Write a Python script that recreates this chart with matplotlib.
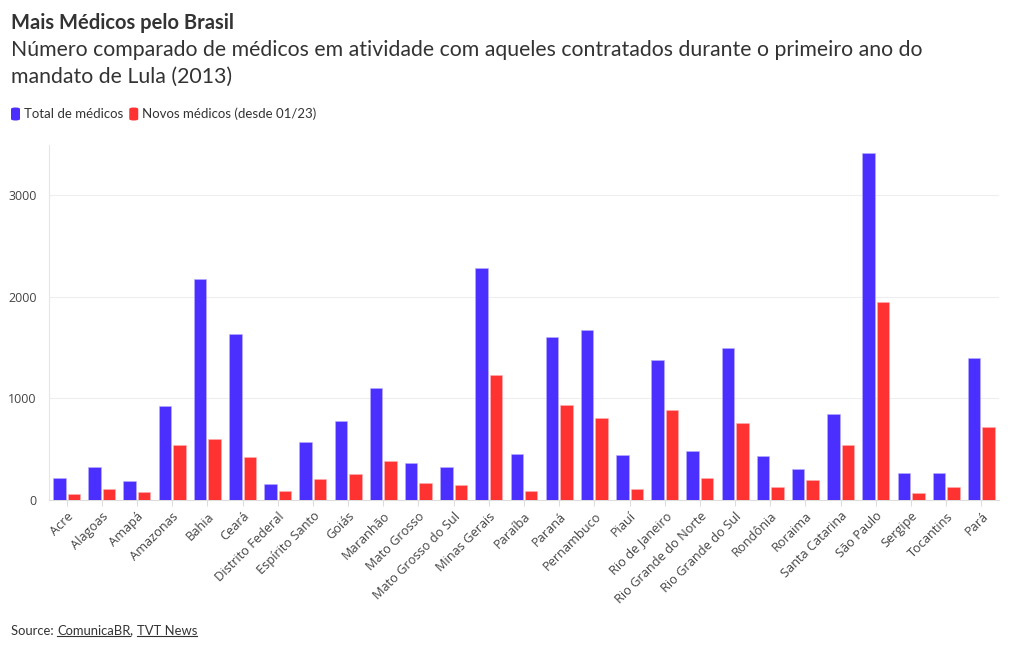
import matplotlib
matplotlib.use("Agg")
import matplotlib.pyplot as plt
import numpy as np
from matplotlib.lines import Line2D
from matplotlib.patches import FancyBboxPatch

states = ["Acre", "Alagoas", "Amapá", "Amazonas", "Bahia", "Ceará", "Distrito Federal",
          "Espírito Santo", "Goiás", "Maranhão", "Mato Grosso", "Mato Grosso do Sul",
          "Minas Gerais", "Paraíba", "Paraná", "Pernambuco", "Piauí", "Rio de Janeiro",
          "Rio Grande do Norte", "Rio Grande do Sul", "Rondônia", "Roraima",
          "Santa Catarina", "São Paulo", "Sergipe", "Tocantins", "Pará"]
total = [220, 321, 190, 928, 2171, 1636, 154, 571, 774, 1105, 367, 325, 2282, 449,
         1600, 1672, 446, 1377, 482, 1495, 433, 308, 843, 3410, 266, 262, 1394]
novos = [59, 108, 82, 544, 597, 426, 85, 203, 256, 380, 167, 144, 1233, 85, 935,
         803, 108, 885, 213, 757, 131, 193, 538, 1944, 69, 125, 718]
yticks = [0, 1000, 2000, 3000]
series_labels = ["Total de médicos", "Novos médicos (desde 01/23)"]

BLUE = "#4a2fff"
RED = "#ff3232"
TXT = "#333333"

fig = plt.figure(figsize=(10.2, 6.5), dpi=100)
ax = fig.add_axes([49 / 1020, 150 / 650, 950 / 1020, 355 / 650])

x = np.arange(len(states))
w = 0.355
off = 0.206
ax.bar(x - off, total, width=w, color=BLUE, edgecolor="#b9b0ff", linewidth=0.4,
       label=series_labels[0], zorder=3)
ax.bar(x + off, novos, width=w, color=RED, edgecolor="#ffb0b0", linewidth=0.4,
       label=series_labels[1], zorder=3)

ax.set_xlim(-0.5, len(states) - 0.5)
ax.set_ylim(0, 3490)
ax.set_yticks(yticks)
ax.set_yticklabels([str(v) for v in yticks], fontsize=9, color="#444444",
                   family="Open Sans")
ax.set_xticks(x)
ax.set_xticklabels(states, rotation=45, ha="right", rotation_mode="anchor",
                   fontsize=9.2, color="#444444", family="Open Sans")
ax.tick_params(axis="x", length=4, color="#dddddd", pad=3)
ax.tick_params(axis="y", length=0, pad=9)
ax.grid(axis="y", color="#eeeeee", linewidth=0.8, zorder=0)
for s in ["top", "right"]:
    ax.spines[s].set_visible(False)
ax.spines["left"].set_color("#e6e6e6")
ax.spines["left"].set_linewidth(0.8)
ax.spines["bottom"].set_color("#dddddd")
ax.spines["bottom"].set_linewidth(0.8)

fig.text(11 / 1020, 1 - 23 / 650, "Mais Médicos pelo Brasil", fontsize=14.5,
         fontweight="bold", color=TXT, family="Lato", va="center")
fig.text(11 / 1020, 1 - 50 / 650,
         "Número comparado de médicos em atividade com aqueles contratados durante o primeiro ano do",
         fontsize=15.3, color=TXT, family="Lato", va="center")
fig.text(11 / 1020, 1 - 77 / 650, "mandato de Lula (2013)", fontsize=15.3, color=TXT,
         family="Lato", va="center")

fig.canvas.draw()
renderer = fig.canvas.get_renderer()
inv = fig.transFigure.inverted()

# legend with rounded swatches
xpos = 11
yc = 114
for lab, col in zip(series_labels, [BLUE, RED]):
    sw = FancyBboxPatch(((xpos) / 1020, (650 - yc - 6.5) / 650), 9 / 1020, 13 / 650,
                        boxstyle="round,pad=0,rounding_size=0.004",
                        transform=fig.transFigure, facecolor=col, edgecolor="none",
                        mutation_aspect=650 / 1020)
    fig.add_artist(sw)
    t = fig.text((xpos + 13) / 1020, 1 - yc / 650, lab, fontsize=9.5, color=TXT,
                 family="Lato", va="center")
    bb = t.get_window_extent(renderer=renderer)
    xpos = bb.x1 + 6

# Source line with underlined links
xposf = 11 / 1020
ypos = 1 - 631 / 650
parts = [("Source: ", False), ("ComunicaBR", True), (", ", False), ("TVT News", True)]
for s, ul in parts:
    t = fig.text(xposf, ypos, s, fontsize=9.4, color=TXT, family="Lato", va="center")
    bbf = t.get_window_extent(renderer=renderer).transformed(inv)
    if ul:
        yl = bbf.y0 + 0.1 * (bbf.y1 - bbf.y0)
        fig.add_artist(Line2D([bbf.x0, bbf.x1], [yl, yl], transform=fig.transFigure,
                              color=TXT, linewidth=0.8))
    xposf = bbf.x1

fig.savefig("out.png", dpi=100, facecolor="white")
